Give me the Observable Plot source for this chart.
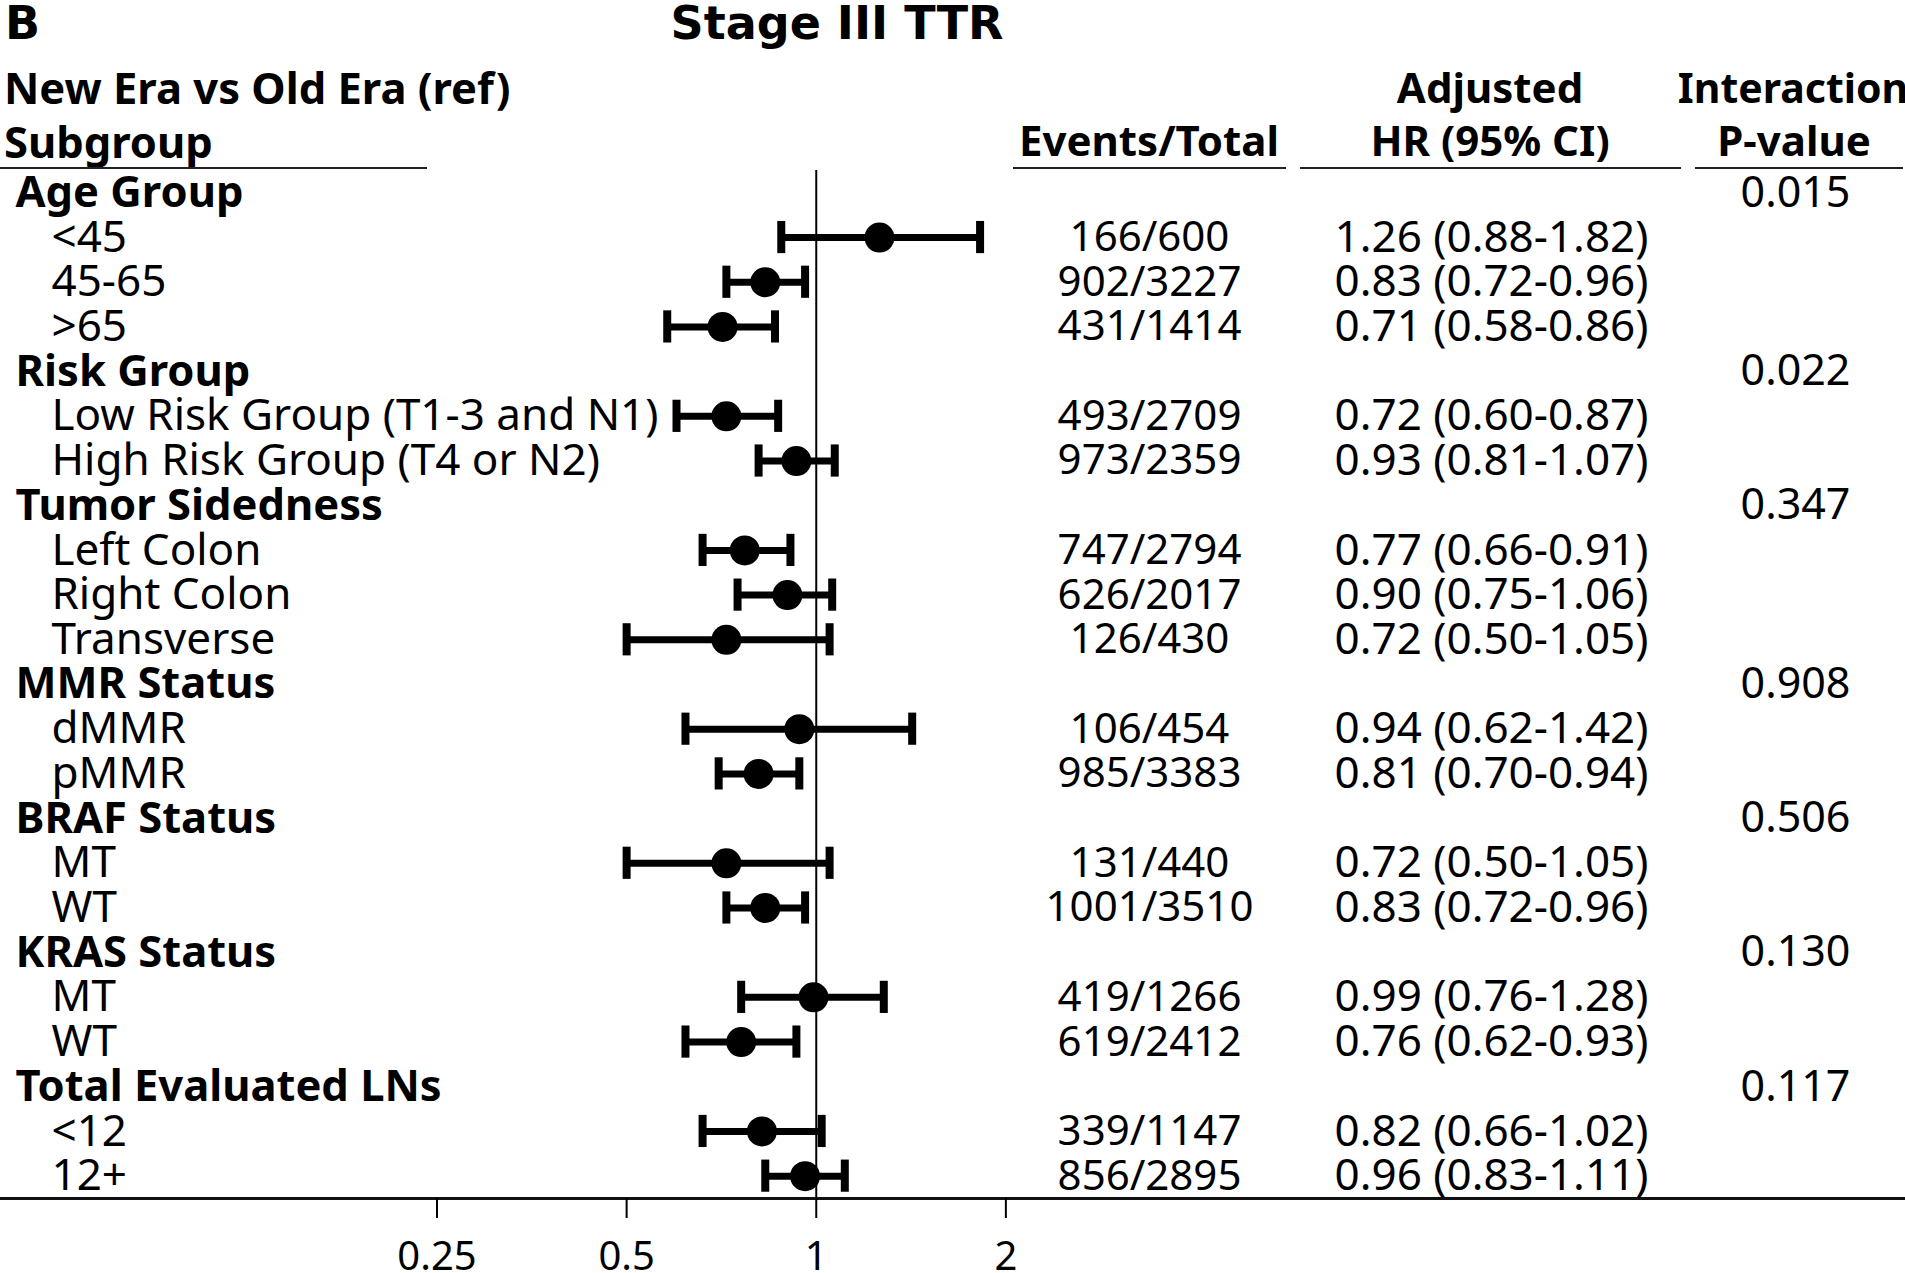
<!DOCTYPE html>
<html><head><meta charset="utf-8">
<script src="https://cdn.jsdelivr.net/npm/d3@7"></script>
<script src="https://cdn.jsdelivr.net/npm/@observablehq/plot@0.6"></script>
<style>
body{margin:0;background:#fff;font-family:"Noto Sans",sans-serif;color:#000;}
#wrap{width:1905px;height:1273px;overflow:hidden;}
#head{position:relative;width:1905px;height:170px;}
#head .t{position:absolute;font-weight:bold;font-size:42px;line-height:42px;white-space:nowrap;}
#head .l{font-size:43.5px;line-height:44px;}
#head .title{font-family:"DejaVu Sans",sans-serif;font-size:46px;line-height:46px;}
#head .c{transform:translateX(-50%);}
#head .ul{position:absolute;top:167px;height:2px;background:#222;}
#chart svg{display:block;}
</style></head><body>
<div id="wrap">
<div id="head">
  <div class="t title" style="left:5px;top:0px;">B</div>
  <div class="t title c" style="left:837px;top:0px;">Stage III TTR</div>
  <div class="t l" style="left:4px;top:65px;">New Era vs Old Era (ref)</div>
  <div class="t l" style="left:4px;top:119px;">Subgroup</div>
  <div class="t c" style="left:1149px;top:119px;">Events/Total</div>
  <div class="t c" style="left:1490px;top:66px;">Adjusted</div>
  <div class="t c" style="left:1490px;top:119px;">HR (95% CI)</div>
  <div class="t c" style="left:1793px;top:66px;font-size:41px;">Interaction</div>
  <div class="t c" style="left:1794px;top:119px;">P-value</div>
  <div class="ul" style="left:0px;width:427px;"></div>
  <div class="ul" style="left:1013px;width:273px;"></div>
  <div class="ul" style="left:1300px;width:381px;"></div>
  <div class="ul" style="left:1695px;width:208px;"></div>
</div>
<div id="chart"></div>
</div>
<script>
// ---- data ----
const labels = ["Age Group","<45","45-65",">65",
  "Risk Group","Low Risk Group (T1-3 and N1)","High Risk Group (T4 or N2)",
  "Tumor Sidedness","Left Colon","Right Colon","Transverse",
  "MMR Status","dMMR","pMMR",
  "BRAF Status","MT","WT",
  "KRAS Status","MT","WT",
  "Total Evaluated LNs","<12","12+"];
const isGroup = [1,0,0,0, 1,0,0, 1,0,0,0, 1,0,0, 1,0,0, 1,0,0, 1,0,0];
const eventsTotal = [null,"166/600","902/3227","431/1414",
  null,"493/2709","973/2359",
  null,"747/2794","626/2017","126/430",
  null,"106/454","985/3383",
  null,"131/440","1001/3510",
  null,"419/1266","619/2412",
  null,"339/1147","856/2895"];
const hr = [null,1.26,0.83,0.71, null,0.72,0.93, null,0.77,0.90,0.72, null,0.94,0.81, null,0.72,0.83, null,0.99,0.76, null,0.82,0.96];
const lo = [null,0.88,0.72,0.58, null,0.60,0.81, null,0.66,0.75,0.50, null,0.62,0.70, null,0.50,0.72, null,0.76,0.62, null,0.66,0.83];
const hi = [null,1.82,0.96,0.86, null,0.87,1.07, null,0.91,1.06,1.05, null,1.42,0.94, null,1.05,0.96, null,1.28,0.93, null,1.02,1.11];
const pValues = ["0.015",null,null,null, "0.022",null,null, "0.347",null,null,null, "0.908",null,null, "0.506",null,null, "0.130",null,null, "0.117",null,null];
const xTicks = [0.25, 0.5, 1, 2];
const xTickLabels = ["0.25", "0.5", "1", "2"];

// ---- build rows ----
const rows = labels.map((label, i) => ({
  i, label, group: !!isGroup[i], events: eventsTotal[i],
  hr: hr[i], lo: lo[i], hi: hi[i], p: pValues[i]
}));
const groups = rows.filter(d => d.group);
const subs = rows.filter(d => !d.group);
const fmt = v => v.toFixed(2);
const tickRows = xTicks.map((v, k) => ({v, label: xTickLabels[k]}));

const chart = Plot.plot({
  width: 1905, height: 1103,
  marginTop: 0, marginBottom: 75, marginLeft: 0, marginRight: 0,
  x: {type: "log", domain: [0.0507, 53.6], axis: null},
  y: {domain: [-0.5, labels.length - 0.5], reverse: true, axis: null},
  style: {fontFamily: "'Noto Sans', sans-serif", color: "#000", background: "#fff", overflow: "visible"},
  marks: [
    Plot.ruleY([labels.length - 0.5], {stroke: "#111", strokeWidth: 3}),
    Plot.ruleX([1], {stroke: "#000", strokeWidth: 2}),
    Plot.axisX({ticks: xTicks, tickSize: 20, strokeWidth: 2, tickFormat: () => "", label: null, anchor: "bottom"}),
    Plot.text(tickRows, {x: "v", text: "label", frameAnchor: "bottom", lineAnchor: "middle", dy: 59, fontSize: 40}),
    Plot.ruleY(subs, {y: "i", x1: "lo", x2: "hi", stroke: "#000", strokeWidth: 7}),
    Plot.ruleX(subs, {x: "lo", y1: d => d.i - 0.36, y2: d => d.i + 0.36, stroke: "#000", strokeWidth: 8}),
    Plot.ruleX(subs, {x: "hi", y1: d => d.i - 0.36, y2: d => d.i + 0.36, stroke: "#000", strokeWidth: 8}),
    Plot.dot(subs, {x: "hr", y: "i", r: 15, fill: "#000", stroke: "none"}),
    Plot.text(groups, {y: "i", text: "label", frameAnchor: "left", dx: 15, textAnchor: "start",
      fontSize: 43.5, fontWeight: "bold"}),
    Plot.text(subs, {y: "i", text: "label", frameAnchor: "left", dx: 51, textAnchor: "start", fontSize: 44}),
    Plot.text(subs, {y: "i", text: "events", frameAnchor: "left", dx: 1149, textAnchor: "middle", fontSize: 42}),
    Plot.text(subs, {y: "i", text: d => `${fmt(d.hr)} (${fmt(d.lo)}-${fmt(d.hi)})`, frameAnchor: "left",
      dx: 1491, textAnchor: "middle", fontSize: 44}),
    Plot.text(groups, {y: "i", text: "p", frameAnchor: "left", dx: 1795, textAnchor: "middle", fontSize: 43})
  ]
});
document.getElementById("chart").appendChild(chart);
</script>
</body></html>
